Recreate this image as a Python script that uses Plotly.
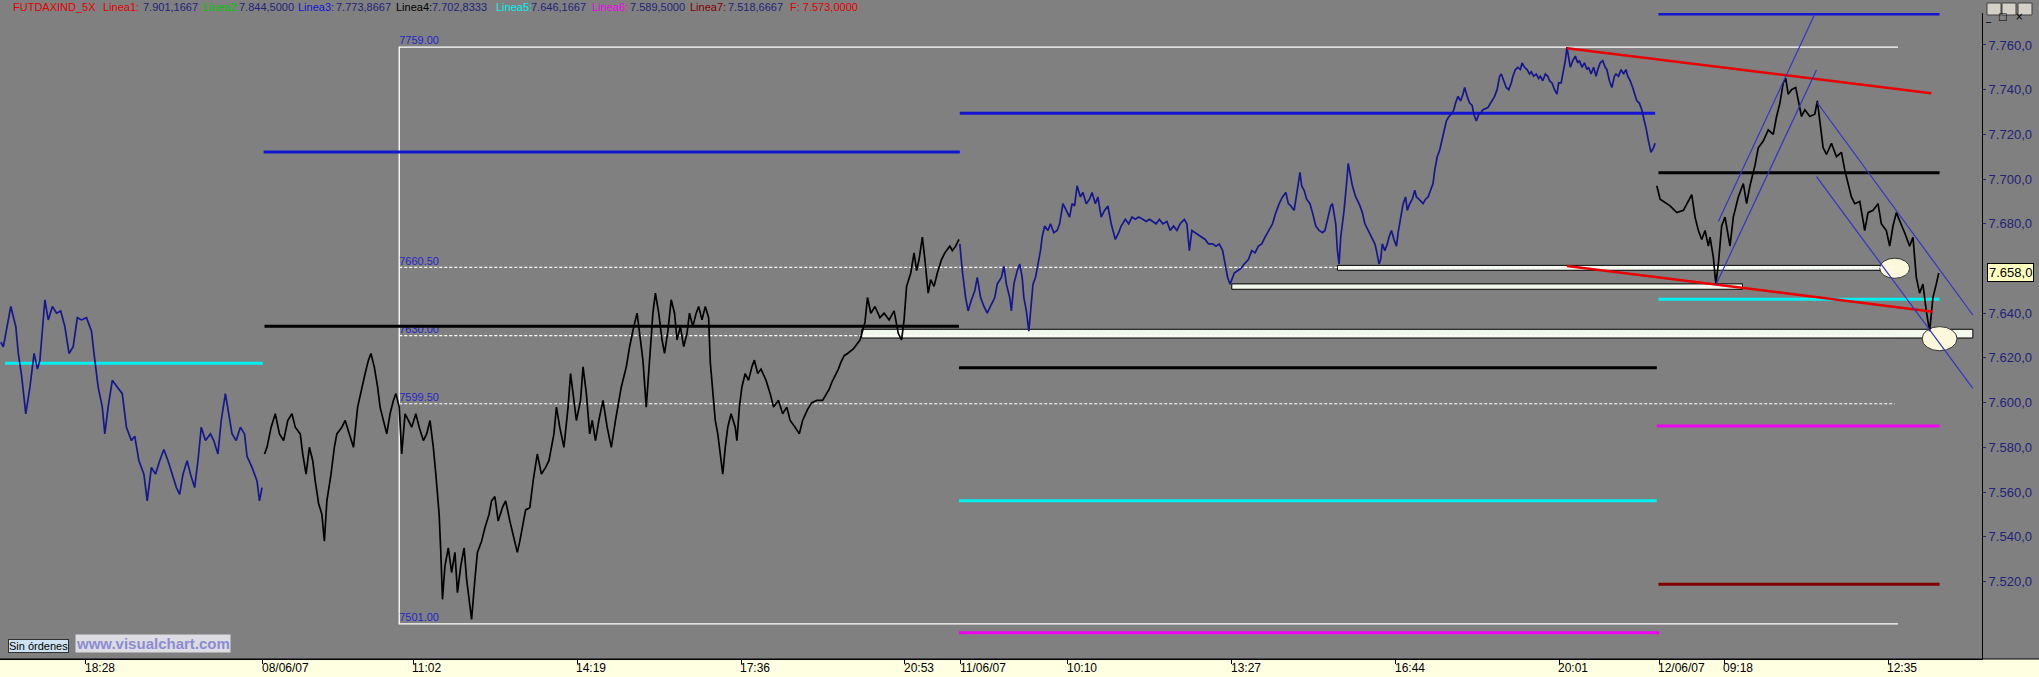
import plotly.graph_objects as go

# ---------------- data (time = 1-minute bar index from 07/06/07 16:45) ----------------
tick_pos = [103, 316, 497, 694, 891, 1088, 1155, 1284, 1481, 1678, 1875, 1995, 2073, 2270]
tick_labels = ["18:28", "08/06/07", "11:02", "14:19", "17:36", "20:53", "11/06/07",
               "10:10", "13:27", "16:44", "20:01", "12/06/07", "09:18", "12:35"]
price_ticks = [7520, 7540, 7560, 7580, 7600, 7620, 7640, 7680, 7700, 7720, 7740, 7760]
price_tick_text = ["7.520,0", "7.540,0", "7.560,0", "7.580,0", "7.600,0", "7.620,0",
                   "7.640,0", "7.680,0", "7.700,0", "7.720,0", "7.740,0", "7.760,0"]

# 07/06/07 (blue)
s1_t = [1, 4, 7, 13, 19, 22, 26, 31, 36, 41, 45, 48, 54, 58, 63, 68, 73, 78, 83, 88, 93,
        98, 104, 110, 113, 118, 123, 126, 130, 135, 141, 147, 152, 158, 162, 167, 173, 177,
        182, 187, 192, 197, 202, 207, 212, 216, 220, 225, 229, 234, 238, 242, 247, 253, 257,
        262, 266, 271, 275, 279, 284, 289, 294, 297, 303, 309, 312, 315]
s1_p = [7627, 7625, 7631, 7643, 7634, 7622, 7612, 7595, 7607, 7622, 7615, 7619, 7646, 7637,
        7643, 7640, 7641, 7634, 7622, 7625, 7638, 7637, 7638, 7632, 7622, 7607, 7598, 7586,
        7598, 7610, 7607, 7604, 7589, 7583, 7585, 7574, 7568, 7556, 7571, 7568, 7574, 7579,
        7574, 7568, 7562, 7559, 7568, 7574, 7568, 7562, 7574, 7589, 7583, 7586, 7583, 7577,
        7592, 7604, 7595, 7586, 7583, 7589, 7586, 7576, 7571, 7565, 7556, 7562]

# 08/06/07 (black)
s2_t = [318, 321, 326, 331, 336, 341, 346, 351, 355, 361, 364, 368, 372, 376, 379, 383, 387,
        390, 393, 398, 402, 405, 411, 415, 420, 425, 430, 435, 439, 443, 446, 450, 454, 457,
        461, 465, 469, 473, 476, 480, 483, 487, 491, 495, 500, 504, 509, 513, 517, 521, 524,
        528, 530, 532, 535, 539, 543, 547, 550, 554, 558, 561, 565, 567, 571, 574, 579, 583,
        588, 591, 595, 599, 604, 608, 613, 617, 622, 625, 629, 632, 637, 641, 646, 651, 656,
        660, 666, 669, 673, 678, 683, 686, 689, 693, 698, 701, 705, 709, 712, 716, 720, 725,
        730, 735, 740, 744, 747, 753, 757, 762, 766, 770, 773, 777, 781, 785, 788, 792, 796,
        799, 803, 807, 811, 814, 818, 822, 826, 829, 833, 837, 840, 844, 848, 852, 854, 857,
        860, 863, 866, 869, 872, 875, 879, 884, 886, 889, 892, 896, 900, 904, 907, 911, 915,
        921, 926, 930, 936, 941, 946, 950, 956, 961, 965, 971, 976, 982, 989, 997, 1000, 1004,
        1008, 1011, 1015, 1019, 1026, 1034, 1040, 1043, 1047, 1052, 1058, 1063, 1069, 1075,
        1080, 1084, 1087, 1090, 1095, 1099, 1102, 1105, 1109, 1112, 1116, 1119, 1123, 1127,
        1132, 1136, 1142, 1145, 1149, 1153]
s2_p = [7577, 7580, 7589, 7595, 7586, 7583, 7592, 7595, 7589, 7586, 7577, 7568, 7580, 7574,
        7565, 7555, 7550, 7538, 7556, 7568, 7580, 7586, 7589, 7592, 7586, 7580, 7598, 7607,
        7613, 7619, 7622, 7616, 7607, 7598, 7592, 7586, 7595, 7601, 7604, 7598, 7577, 7595,
        7592, 7589, 7595, 7589, 7583, 7586, 7592, 7580, 7568, 7550, 7533, 7512, 7527, 7535,
        7524, 7533, 7515, 7527, 7535, 7521, 7509, 7503, 7521, 7533, 7538, 7544, 7550, 7556,
        7558, 7547, 7553, 7556, 7547, 7541, 7533, 7538, 7547, 7552, 7553, 7565, 7577, 7568,
        7571, 7574, 7586, 7598, 7589, 7580, 7598, 7613, 7604, 7592, 7601, 7616, 7604, 7586,
        7592, 7583, 7592, 7601, 7589, 7580, 7592, 7601, 7607, 7616, 7625, 7634, 7640, 7628,
        7619, 7598, 7619, 7640, 7649, 7640, 7628, 7622, 7632, 7646, 7640, 7628, 7634, 7625,
        7631, 7640, 7634, 7640, 7643, 7637, 7643, 7638, 7618, 7604, 7592, 7586, 7577, 7568,
        7580, 7589, 7595, 7589, 7583, 7598, 7607, 7613, 7610, 7616, 7619, 7613, 7615, 7610,
        7604, 7598, 7601, 7595, 7598, 7592, 7589, 7586, 7592, 7597, 7600, 7601, 7601, 7606,
        7609, 7612, 7615, 7618, 7621, 7622, 7624, 7628, 7636, 7647, 7640, 7643, 7638, 7640,
        7637, 7641, 7631, 7628, 7637, 7652, 7658, 7667, 7659, 7664, 7674, 7664, 7649, 7655,
        7652, 7658, 7664, 7667, 7670, 7668, 7670, 7673]

# 11/06/07 (blue)
s3_t = [1154, 1157, 1161, 1164, 1168, 1172, 1175, 1179, 1183, 1187, 1192, 1196, 1199, 1204,
        1207, 1210, 1214, 1216, 1219, 1223, 1226, 1229, 1231, 1234, 1237, 1240, 1242, 1245,
        1248, 1251, 1253, 1256, 1260, 1263, 1267, 1271, 1274, 1278, 1282, 1286, 1289, 1292,
        1295, 1299, 1302, 1306, 1310, 1313, 1317, 1320, 1324, 1328, 1332, 1336, 1341, 1345,
        1348, 1353, 1357, 1361, 1365, 1369, 1374, 1378, 1382, 1386, 1390, 1394, 1398, 1403,
        1407, 1411, 1415, 1419, 1424, 1427, 1430, 1433, 1437, 1441, 1446, 1449, 1453, 1458,
        1462, 1466, 1470, 1473, 1476, 1479, 1481, 1484, 1488, 1492, 1496, 1501, 1505, 1509,
        1513, 1517, 1521, 1525, 1530, 1534, 1538, 1542, 1546, 1549, 1552, 1556, 1560, 1563,
        1565, 1568, 1571, 1575, 1578, 1582, 1586, 1590, 1593, 1596, 1600, 1602, 1606, 1608,
        1610, 1612, 1616, 1619, 1621, 1623, 1626, 1630, 1634, 1638, 1641, 1645, 1649, 1653,
        1655, 1658, 1660, 1662, 1665, 1668, 1670, 1673, 1676, 1679, 1681, 1684, 1687, 1690,
        1692, 1695, 1698, 1701, 1703, 1706, 1711, 1714, 1717, 1720, 1723, 1725, 1728, 1731,
        1734, 1737, 1739, 1742, 1745, 1748, 1750, 1753, 1756, 1759, 1761, 1764, 1767, 1770,
        1772, 1775, 1778, 1781, 1783, 1789, 1794, 1797, 1800, 1803, 1805, 1808, 1811, 1814,
        1817, 1819, 1822, 1825, 1828, 1830, 1833, 1836, 1839, 1841, 1844, 1847, 1850, 1852,
        1855, 1858, 1861, 1863, 1866, 1869, 1872, 1874, 1877, 1880, 1882, 1884, 1886, 1888,
        1891, 1894, 1897, 1899, 1902, 1905, 1908, 1910, 1913, 1916, 1919, 1921, 1924, 1927,
        1930, 1932, 1935, 1938, 1941, 1943, 1946, 1949, 1952, 1955, 1957, 1960, 1963, 1966,
        1968, 1971, 1974, 1977, 1979, 1982, 1985, 1988, 1990]
s3_p = [7671, 7659, 7647, 7641, 7646, 7650, 7656, 7647, 7643, 7640, 7644, 7647, 7653, 7656,
        7661, 7653, 7647, 7641, 7653, 7659, 7662, 7656, 7647, 7641, 7632, 7644, 7653, 7656,
        7662, 7668, 7674, 7679, 7677, 7680, 7676, 7677, 7680, 7689, 7686, 7683, 7689, 7688,
        7697, 7692, 7694, 7689, 7691, 7694, 7689, 7692, 7683, 7686, 7688, 7680, 7673, 7676,
        7679, 7682, 7680, 7683, 7682, 7683, 7682, 7681, 7682, 7681, 7680, 7682, 7680, 7681,
        7677, 7679, 7677, 7680, 7682, 7680, 7668, 7677, 7676, 7675, 7674, 7673, 7671, 7671,
        7670, 7671, 7668, 7662, 7656, 7653, 7655, 7658, 7659, 7660, 7662, 7664, 7668, 7667,
        7670, 7671, 7674, 7677, 7680, 7685, 7689, 7692, 7694, 7689, 7688, 7686, 7695, 7703,
        7697, 7695, 7691, 7689, 7685, 7679, 7677, 7676, 7677, 7682, 7688, 7689, 7680, 7668,
        7662, 7674, 7686, 7698, 7707, 7703, 7697, 7692, 7689, 7685, 7680, 7677, 7674, 7671,
        7668, 7662, 7664, 7671, 7668, 7671, 7674, 7677, 7673, 7670, 7676, 7683, 7689, 7692,
        7686, 7689, 7691, 7695, 7692, 7691, 7689, 7691, 7692, 7695, 7698, 7704, 7710, 7713,
        7718, 7722, 7726, 7728, 7729, 7731, 7734, 7737, 7735, 7738, 7741, 7737, 7734, 7733,
        7729, 7726, 7729, 7730, 7731, 7732, 7735, 7737, 7740, 7746, 7747, 7744, 7741, 7740,
        7743, 7746, 7749, 7750, 7749, 7752, 7750, 7749, 7747, 7748, 7746, 7747, 7745, 7746,
        7744, 7747, 7746, 7744, 7743, 7740, 7738, 7743, 7743, 7749, 7753, 7759, 7755, 7750,
        7753, 7755, 7752, 7753, 7750, 7752, 7749, 7750, 7747, 7750, 7746, 7749, 7752, 7753,
        7750, 7749, 7744, 7741, 7746, 7747, 7746, 7749, 7747, 7749, 7746, 7744, 7741, 7737,
        7735, 7734, 7731, 7726, 7723, 7717, 7712, 7714, 7716]

# 12/06/07 (black)
s4_t = [1992, 1996, 2008, 2016, 2024, 2034, 2038, 2042, 2046, 2050, 2054, 2056, 2060, 2063,
        2066, 2070, 2074, 2080, 2084, 2090, 2096, 2100, 2104, 2110, 2114, 2120, 2126, 2132,
        2136, 2140, 2144, 2147, 2150, 2154, 2159, 2162, 2166, 2170, 2176, 2182, 2185, 2188,
        2192, 2196, 2202, 2208, 2214, 2218, 2222, 2226, 2230, 2236, 2242, 2246, 2252, 2258,
        2262, 2268, 2272, 2276, 2280, 2286, 2290, 2296, 2300, 2304, 2308, 2312, 2316, 2320,
        2324, 2328, 2331]
s4_p = [7697, 7691, 7688, 7685, 7686, 7693, 7683, 7677, 7673, 7677, 7670, 7674, 7665, 7653,
        7662, 7679, 7683, 7670, 7683, 7692, 7698, 7689, 7697, 7706, 7714, 7717, 7722, 7720,
        7728, 7734, 7743, 7745, 7738, 7740, 7741, 7735, 7728, 7731, 7728, 7729, 7735, 7726,
        7714, 7711, 7716, 7710, 7712, 7704, 7698, 7692, 7689, 7690, 7677, 7685, 7686, 7689,
        7680, 7677, 7670, 7679, 7685, 7680, 7676, 7670, 7674, 7656, 7649, 7653, 7641, 7632,
        7647, 7653, 7658]
last_price = 7658.0

# horizontal reference levels (price, from-bar, to-bar, kind)
level_price = [7617.6, 7712.1, 7634.2, 7729.4, 7615.6, 7556.1, 7497.0,
               7773.9, 7702.8, 7646.2, 7589.5, 7518.7]
level_from = [6, 317, 318, 1154, 1153, 1153, 1153, 1994, 1994, 1994, 1992, 1994]
level_to = [316, 1154, 1153, 1990, 1992, 1992, 1995, 2332, 2332, 2332, 2332, 2332]
level_kind = ["Linea5", "Linea3", "Linea4", "Linea3", "Linea4", "Linea5", "Linea6",
              "Linea3", "Linea4", "Linea5", "Linea6", "Linea7"]

# Fibonacci box
fib_levels = [7759.0, 7660.5, 7630.0, 7599.5, 7501.0]
fib_labels = ["7759.00", "7660.50", "7630.00", "7599.50", "7501.00"]
fib_from, fib_to, fib_dash_to = 480, 2282, 2278

# white zones
zone_low = [7628.9, 7659.2, 7650.7]
zone_high = [7632.8, 7661.4, 7653.1]
zone_from = [1036, 1608, 1481]
zone_to = [2372, 2290, 2095]

# trend lines (red) and channels (blue)
red_t = [[1884, 2322], [1884, 2324]]
red_p = [[7758.5, 7738.4], [7661.1, 7640.7]]
chan_t = [[2066, 2181], [2063, 2184], [2184, 2372], [2184, 2372]]
chan_p = [[7681.0, 7773.1], [7652.6, 7748.8], [7734.6, 7639.2], [7701.1, 7606.4]]

# ellipses
ell_t = [[2260, 2296], [2311, 2353]]
ell_p = [[7655.6, 7664.6], [7623.2, 7634.0]]

# header legend
legend_parts = [("FUTDAXIND_5X", "name"), ("Linea1:", "Linea1"), ("7.901,1667", "val"),
                ("Linea2:", "Linea2"), ("7.844,5000", "val"), ("Linea3:", "Linea3"),
                ("7.773,8667", "val"), ("Linea4:", "Linea4"), ("7.702,8333", "val"),
                ("Linea5:", "Linea5"), ("7.646,1667", "val"), ("Linea6:", "Linea6"),
                ("7.589,5000", "val"), ("Linea7:", "Linea7"), ("7.518,6667", "val"),
                ("F: 7.573,0000", "name")]
legend_px = [13, 103, 143, 203, 239, 298, 336, 396, 432, 496, 531, 592, 630, 690, 728, 790]

# ---------------- styling ----------------
W, H = 2039, 677
PL, PR, PT, PB = 0, 1982, 13, 659
X_RANGE = [0, 2383]
Y_RANGE = [7485.3, 7774.3]
BG = "#808080"
NAVY = "#23237a"
kind_color = {"Linea1": "#e00000", "Linea2": "#00c800", "Linea3": "#1414d2", "Linea4": "#000000",
              "Linea5": "#00f0f0", "Linea6": "#f000f0", "Linea7": "#800000",
              "name": "#e00000", "val": NAVY}
FONT = "Liberation Sans, Arial, sans-serif"


def pxx(px):
    return (px - PL) / (PR - PL)


def pxy(py):
    return (PB - py) / (PB - PT)


fig = go.Figure()

# Fibonacci box (solid edges + dashed inner levels)
fig.add_trace(go.Scatter(x=[fib_to, fib_from, fib_from, fib_to],
                         y=[fib_levels[0], fib_levels[0], fib_levels[-1], fib_levels[-1]],
                         mode="lines", line=dict(color="white", width=1.3), hoverinfo="skip"))
dx, dy = [], []
for lv in fib_levels[1:-1]:
    dx += [fib_from, fib_dash_to, None]
    dy += [lv, lv, None]
fig.add_trace(go.Scatter(x=dx, y=dy, mode="lines",
                         line=dict(color="white", width=1.2, dash="3px,2px"), hoverinfo="skip"))
fig.add_trace(go.Scatter(x=[fib_from] * len(fib_levels), y=fib_levels, text=fib_labels,
                         mode="text", textposition="top right",
                         textfont=dict(family=FONT, size=11, color="#2626cc"), hoverinfo="skip"))

# level lines
for p, a, b, k in zip(level_price, level_from, level_to, level_kind):
    fig.add_trace(go.Scatter(x=[a, b], y=[p, p], mode="lines",
                             line=dict(color=kind_color[k], width=3), hoverinfo="skip"))

# price series
for t, p, c in [(s1_t, s1_p, "#16168f"), (s2_t, s2_p, "#000000"),
                (s3_t, s3_p, "#16168f"), (s4_t, s4_p, "#000000")]:
    fig.add_trace(go.Scatter(x=t, y=p, mode="lines", line=dict(color=c, width=1.7),
                             hoverinfo="skip"))

# red trend lines
for t, p in zip(red_t, red_p):
    fig.add_trace(go.Scatter(x=t, y=p, mode="lines", line=dict(color="#e80000", width=2.5),
                             hoverinfo="skip"))
# blue channels
for t, p in zip(chan_t, chan_p):
    fig.add_trace(go.Scatter(x=t, y=p, mode="lines", line=dict(color="#3434c4", width=1.2),
                             hoverinfo="skip"))

# zones and ellipses (under the lines)
for lo, hi, a, b in zip(zone_low, zone_high, zone_from, zone_to):
    fig.add_shape(type="rect", xref="x", yref="y", x0=a, x1=b, y0=lo, y1=hi,
                  fillcolor="#f3f8ec", line=dict(color="black", width=1), layer="below")
for t, p in zip(ell_t, ell_p):
    fig.add_shape(type="circle", xref="x", yref="y", x0=t[0], x1=t[1], y0=p[0], y1=p[1],
                  fillcolor="#fbf8dc", line=dict(color="#303030", width=1), layer="below")

# bottom yellow time strip
fig.add_shape(type="rect", xref="paper", yref="paper", x0=0, x1=pxx(W), y0=pxy(H), y1=0,
              fillcolor="#ffffe1", line=dict(width=0), layer="below")
fig.add_shape(type="line", xref="paper", yref="paper", x0=0, x1=pxx(W), y0=0, y1=0,
              line=dict(color="black", width=1))

# time labels (left aligned at tick)
for p, lab in zip(tick_pos, tick_labels):
    fig.add_annotation(x=p, y=pxy(660), xref="x", yref="paper", text=lab, showarrow=False,
                       xanchor="left", yanchor="top", xshift=-2, borderpad=0,
                       font=dict(family=FONT, size=12, color="black"))

# header legend
for (txt, k), px in zip(legend_parts, legend_px):
    fig.add_annotation(x=pxx(px), y=pxy(7), xref="paper", yref="paper", text=txt,
                       showarrow=False, xanchor="left", yanchor="middle", xshift=-2,
                       font=dict(family=FONT, size=11, color=kind_color[k]))

# last price tag with marker
fig.add_annotation(x=pxx(1987), y=last_price, xref="paper", yref="y",
                   text="7.658,0", showarrow=False, xanchor="left", yanchor="middle",
                   bgcolor="#ffffc0", bordercolor="black", borderwidth=1, borderpad=1,
                   font=dict(family=FONT, size=13, color="black"))

# "Sin órdenes" button and site banner
fig.add_annotation(x=pxx(8), y=pxy(645.5), xref="paper", yref="paper", text="Sin órdenes",
                   showarrow=False, xanchor="left", yanchor="middle",
                   bgcolor="#cfe2f2", bordercolor="#303030", borderwidth=1, borderpad=0,
                   font=dict(family=FONT, size=11, color="black"))
fig.add_annotation(x=pxx(75), y=pxy(643), xref="paper", yref="paper", text="<b>www.visualchart.com</b>",
                   showarrow=False, xanchor="left", yanchor="middle",
                   bgcolor="#dcdce2", borderpad=0,
                   font=dict(family=FONT, size=15, color="#8c8cd2"))

# window buttons
for x0, sym in [(1987, "_"), (2002, "□"), (2018, "×")]:
    fig.add_shape(type="rect", xref="paper", yref="paper", x0=pxx(x0), x1=pxx(x0 + 14),
                  y0=pxy(15), y1=pxy(3), fillcolor="#d4d0c8", line=dict(color="#404040", width=1))
    fig.add_annotation(x=pxx(x0 + 7), y=pxy(9), xref="paper", yref="paper", text=sym,
                       showarrow=False, font=dict(family="DejaVu Sans", size=10, color="black"))

fig.update_layout(
    width=W, height=H,
    margin=dict(l=PL, r=W - PR, t=PT, b=H - PB, autoexpand=False),
    paper_bgcolor=BG, plot_bgcolor=BG, showlegend=False,
    xaxis=dict(range=X_RANGE, showgrid=False, zeroline=False, showline=True, linecolor="black",
               tickvals=tick_pos, ticks="outside", ticklen=4, tickcolor="black",
               showticklabels=False),
    yaxis=dict(range=Y_RANGE, side="right", showgrid=False, zeroline=False, showline=True,
               linecolor="black", linewidth=1, tickvals=price_ticks, ticktext=price_tick_text,
               ticks="outside", ticklen=3, tickcolor=NAVY,
               tickfont=dict(family=FONT, size=13, color=NAVY)),
)

fig.write_html("out.html", config={"displayModeBar": False},
               post_script="document.body.style.margin='0';document.body.style.overflow='hidden';")
